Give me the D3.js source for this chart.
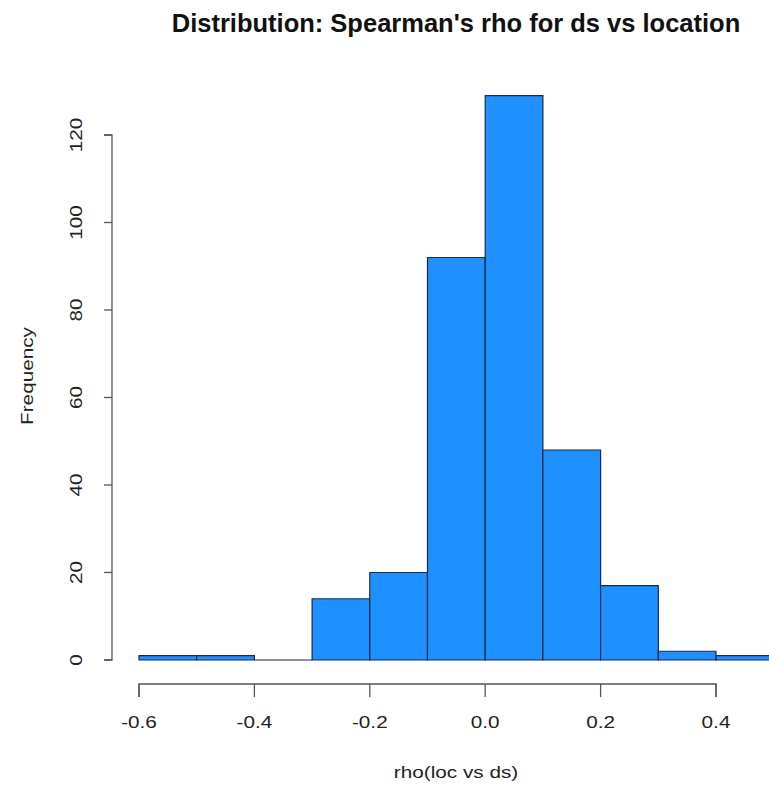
<!DOCTYPE html>
<html>
<head>
<meta charset="utf-8">
<script src="https://cdn.jsdelivr.net/npm/d3@7"></script>
<style>
  body { margin: 0; background: #fff; }
  svg { display: block; font-family: "Liberation Sans", Arial, sans-serif; }
</style>
</head>
<body>
<svg id="chart" width="769" height="785"></svg>
<script>
// Histogram of Spearman's rho (loc vs ds): bin edges and counts
const binStarts = [-0.6, -0.5, -0.4, -0.3, -0.2, -0.1, 0.0, 0.1, 0.2, 0.3, 0.4];
const binWidth = 0.1;
const counts = [1, 1, 0, 14, 20, 92, 129, 48, 17, 2, 1];
const xTicks = [-0.6, -0.4, -0.2, 0.0, 0.2, 0.4];
const yTicks = [0, 20, 40, 60, 80, 100, 120];

const svg = d3.select("#chart");
const x = d3.scaleLinear().domain([-0.6, 0.4]).range([139, 716]);
const y = d3.scaleLinear().domain([0, 120]).range([660, 135]);

const FS = 17;        // label font size
const STRETCH = 1.22; // wide glyphs along the text direction

// bars drawn as closed paths so empty bins still show their outline
svg.append("g").selectAll("path")
  .data(binStarts.map((s, i) => ({ s, c: counts[i] })))
  .join("path")
  .attr("d", d => `M${x(d.s)},${y(0)}V${y(d.c)}H${x(d.s + binWidth)}V${y(0)}Z`)
  .attr("fill", "#1E90FF")
  .attr("stroke", "#1a2a4a")
  .attr("stroke-width", 1.2);

// x axis
const fmt = d => d3.format(".1f")(d).replace("\u2212", "-");
const gx = svg.append("g").attr("transform", "translate(0,684)");
gx.append("path")
  .attr("d", `M${x(-0.6)},13V0H${x(0.4)}V13`)
  .attr("fill", "none").attr("stroke", "#555").attr("stroke-width", 1.3);
gx.selectAll("line.tick").data(xTicks).join("line")
  .attr("x1", d => x(d)).attr("x2", d => x(d)).attr("y1", 0).attr("y2", 13)
  .attr("stroke", "#555").attr("stroke-width", 1.3);
gx.selectAll("text").data(xTicks).join("text")
  .attr("transform", d => `translate(${x(d)},44) scale(${STRETCH},1)`)
  .attr("text-anchor", "middle").attr("font-size", FS).attr("fill", "#222")
  .text(fmt);

// y axis
const gy = svg.append("g").attr("transform", "translate(112,0)");
gy.append("path")
  .attr("d", `M-8,${y(0)}H0V${y(120)}H-8`)
  .attr("fill", "none").attr("stroke", "#555").attr("stroke-width", 1.3);
gy.selectAll("line").data(yTicks).join("line")
  .attr("x1", -8).attr("x2", 0).attr("y1", d => y(d)).attr("y2", d => y(d))
  .attr("stroke", "#555").attr("stroke-width", 1.3);
gy.selectAll("text").data(yTicks).join("text")
  .attr("transform", d => `translate(-30,${y(d)}) rotate(-90) scale(${STRETCH},1)`)
  .attr("text-anchor", "middle").attr("font-size", FS).attr("fill", "#222")
  .text(d => d);

// titles
svg.append("text").attr("x", 456).attr("y", 32).attr("text-anchor", "middle")
  .attr("font-size", 25.5).attr("font-weight", "bold").attr("fill", "#111")
  .text("Distribution: Spearman's rho for ds vs location");
svg.append("text")
  .attr("transform", `translate(456,778) scale(${STRETCH},1)`)
  .attr("text-anchor", "middle").attr("font-size", FS).attr("fill", "#222")
  .text("rho(loc vs ds)");
svg.append("text")
  .attr("transform", `translate(33,376) rotate(-90) scale(${STRETCH},1)`)
  .attr("text-anchor", "middle").attr("font-size", FS).attr("fill", "#222")
  .text("Frequency");
</script>
</body>
</html>
